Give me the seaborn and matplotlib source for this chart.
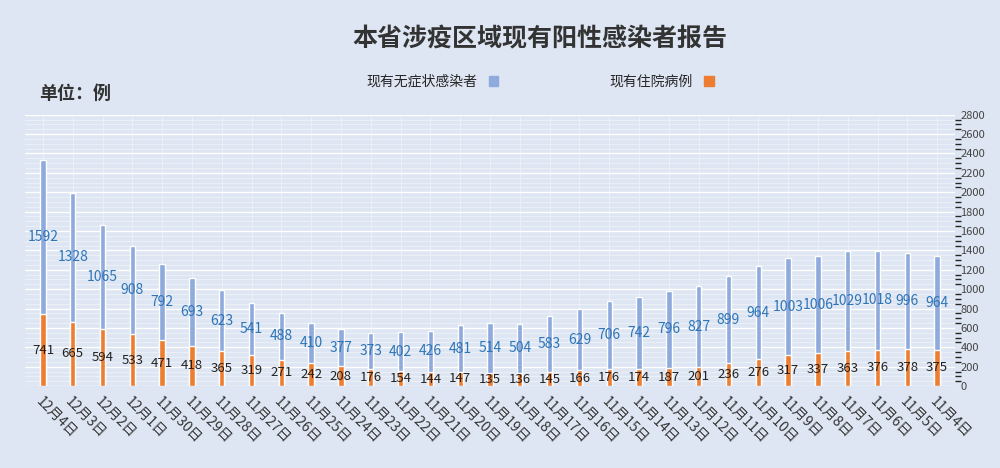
import matplotlib
matplotlib.use("Agg")
import matplotlib.pyplot as plt
import seaborn as sns
import numpy as np
import pandas as pd
from matplotlib.patches import Patch

sns.set_theme(style="white")
plt.rcParams['font.family'] = ['Noto Sans CJK SC', 'DejaVu Sans']

dates = ["12月4日","12月3日","12月2日","12月1日","11月30日","11月29日","11月28日","11月27日",
         "11月26日","11月25日","11月24日","11月23日","11月22日","11月21日","11月20日","11月19日",
         "11月18日","11月17日","11月16日","11月15日","11月14日","11月13日","11月12日","11月11日",
         "11月10日","11月9日","11月8日","11月7日","11月6日","11月5日","11月4日"]
hospital = [741,665,594,533,471,418,365,319,271,242,208,176,154,144,147,135,
            136,145,166,176,174,187,201,236,276,317,337,363,376,378,375]
asym = [1592,1328,1065,908,792,693,623,541,488,410,377,373,402,426,481,514,
        504,583,629,706,742,796,827,899,964,1003,1006,1029,1018,996,964]

bg = "#dde6f2"
orange = "#ed7d31"
blue = "#8faadc"
fig = plt.figure(figsize=(10, 4.68), dpi=100, facecolor=bg)
ax = fig.add_axes([0.025, 0.175, 0.93, 0.58])
ax.set_facecolor(bg)

df = pd.DataFrame({"date": dates, "hospital": hospital, "asym": asym})
df["total"] = df.hospital + df.asym
sns.barplot(data=df, x="date", y="total", color=blue, width=0.18, ax=ax, saturation=1)
sns.barplot(data=df, x="date", y="hospital", color=orange, width=0.18, ax=ax, saturation=1)

for i, (h, a) in enumerate(zip(hospital, asym)):
    ax.text(i, h / 2, str(h), ha="center", va="center", fontsize=9.5, color="#222222")
    ax.text(i, h + a / 2, str(a), ha="center", va="center", fontsize=10, color="#2e75b6")

ax.set_ylim(0, 2800)
ax.set_yticks(range(0, 2801, 200))
ax.yaxis.tick_right()
ax.tick_params(axis="y", labelsize=8, colors="#444444", length=0, pad=4)
ax.set_xlabel(""); ax.set_ylabel("")
ax.set_xticks(range(len(dates)))
ax.set_xticklabels(dates, rotation=-45, ha="left", rotation_mode="anchor", fontsize=10, color="#333333")
ax.tick_params(axis="x", length=0, pad=6)
ax.yaxis.grid(True, which="major", color="#ffffff", lw=1)
ax.set_yticks(range(0, 2801, 50), minor=True)
ax.yaxis.grid(True, which="minor", color="#eef2f8", lw=0.6)
ax.xaxis.grid(True, color="#eef2f8", lw=0.6)
ax.set_axisbelow(True)
for s in ax.spines.values():
    s.set_visible(False)
ax.set_xlim(-0.6, len(dates) - 0.4)

fig.text(0.54, 0.915, "本省涉疫区域现有阳性感染者报告", ha="center", va="center",
         fontsize=18, fontweight="bold", color="#333333")
fig.text(0.075, 0.80, "单位：例", ha="center", va="center", fontsize=13, fontweight="bold", color="#333333")
handles = [Patch(color=blue, label="现有无症状感染者"), Patch(color=orange, label="现有住院病例")]
fig.legend(handles=handles, loc="center", bbox_to_anchor=(0.54, 0.825), ncol=2, frameon=False,
           fontsize=10, markerfirst=False, handlelength=0.7, handleheight=0.7, columnspacing=8)
fig.savefig("out.png", facecolor=bg)
